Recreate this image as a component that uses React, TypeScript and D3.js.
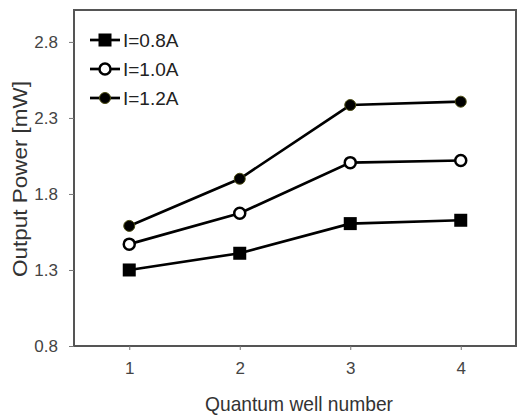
import React, { useEffect, useRef } from 'react'
import * as d3 from 'd3'

const wellNumbers = [1, 2, 3, 4]
const power08 = [1.3, 1.41, 1.605, 1.627]
const power10 = [1.47, 1.673, 2.006, 2.02]
const power12 = [1.59, 1.9, 2.385, 2.407]
const seriesLabels = ['I=0.8A', 'I=1.0A', 'I=1.2A']
const seriesMarkers = ['square', 'openCircle', 'dot']
const yTicks = [0.8, 1.3, 1.8, 2.3, 2.8]

const W = 517
const H = 416

const App: React.FC = () => {
  const svgRef = useRef<SVGSVGElement>(null)

  useEffect(() => {
    if (!svgRef.current) return
    const svg = d3.select(svgRef.current)
    svg.selectAll('*').remove()

    const margin = { top: 10, right: 1, bottom: 70, left: 74 }
    const x = d3.scaleLinear().domain([0.5, 4.5]).range([margin.left, W - margin.right])
    const y = d3.scaleLinear().domain([0.8, 3.01]).range([H - margin.bottom, margin.top])
    const font = '"Liberation Sans", Arial, sans-serif'

    // frame
    svg.append('rect')
      .attr('x', margin.left)
      .attr('y', margin.top)
      .attr('width', W - margin.right - margin.left)
      .attr('height', H - margin.bottom - margin.top)
      .attr('fill', 'none')
      .attr('stroke', '#555')
      .attr('stroke-width', 2)

    // axes
    const xAxis = svg.append('g')
      .attr('transform', `translate(0,${H - margin.bottom})`)
      .call(d3.axisBottom(x).tickValues(wellNumbers).tickSize(4).tickPadding(12).tickFormat(d3.format('d')))
    const yAxis = svg.append('g')
      .attr('transform', `translate(${margin.left},0)`)
      .call(d3.axisLeft(y).tickValues(yTicks).tickSize(5).tickPadding(11).tickFormat(d3.format('.1f')))
    for (const a of [xAxis, yAxis]) {
      a.select('.domain').remove()
      a.selectAll('line').attr('stroke', '#777').attr('stroke-width', 1)
      a.selectAll('text').style('font-family', font).style('font-size', '17px').attr('fill', '#444')
    }

    const allSeries = [power08, power10, power12]
    const line = d3.line<number>().x((_, i) => x(wellNumbers[i])).y(d => y(d))

    const drawMarker = (g: d3.Selection<SVGGElement, unknown, null, undefined>, kind: string, cx: number, cy: number) => {
      if (kind === 'square') {
        g.append('rect').attr('x', cx - 6.5).attr('y', cy - 6.5).attr('width', 13).attr('height', 13).attr('fill', '#000')
      } else if (kind === 'openCircle') {
        g.append('circle').attr('cx', cx).attr('cy', cy).attr('r', 5.5).attr('fill', '#fff').attr('stroke', '#000').attr('stroke-width', 2.5)
      } else {
        g.append('circle').attr('cx', cx).attr('cy', cy).attr('r', 5.5).attr('fill', '#000').attr('stroke', '#4a4a10').attr('stroke-width', 1)
      }
    }

    allSeries.forEach((vals, si) => {
      svg.append('path')
        .datum(vals)
        .attr('d', line)
        .attr('fill', 'none')
        .attr('stroke', '#000')
        .attr('stroke-width', 2.7)
      const g = svg.append('g')
      vals.forEach((v, i) => drawMarker(g, seriesMarkers[si], x(wellNumbers[i]), y(v)))
    })

    // legend
    const legend = svg.append('g')
    seriesLabels.forEach((label, i) => {
      const ly = 40 + i * 29
      legend.append('line')
        .attr('x1', 90).attr('x2', 120).attr('y1', ly).attr('y2', ly)
        .attr('stroke', '#000').attr('stroke-width', 2.7)
      drawMarker(legend, seriesMarkers[i], 105, ly)
      legend.append('text')
        .attr('x', 123)
        .attr('y', ly + 7)
        .style('font-family', font)
        .style('font-size', '19px')
        .attr('fill', '#222')
        .text(label)
    })

    // axis titles
    svg.append('text')
      .attr('transform', `translate(27,179) rotate(-90)`)
      .attr('text-anchor', 'middle')
      .attr('textLength', 196)
      .attr('lengthAdjust', 'spacingAndGlyphs')
      .style('font-family', font)
      .style('font-size', '21px')
      .attr('fill', '#333')
      .text('Output Power [mW]')

    svg.append('text')
      .attr('x', 299)
      .attr('y', 411)
      .attr('text-anchor', 'middle')
      .attr('textLength', 188)
      .attr('lengthAdjust', 'spacingAndGlyphs')
      .style('font-family', font)
      .style('font-size', '21px')
      .attr('fill', '#333')
      .text('Quantum well number')
  }, [])

  return (
    <svg
      ref={svgRef}
      width={W}
      height={H}
      style={{ position: 'absolute', left: 0, top: 0, background: '#fff' }}
    />
  )
}

export default App
